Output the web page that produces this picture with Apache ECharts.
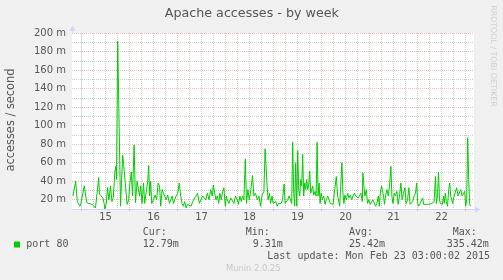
<!DOCTYPE html>
<html><head><meta charset="utf-8">
<script src="https://cdn.jsdelivr.net/npm/echarts@6/dist/echarts.min.js"></script>
<style>html,body{margin:0;padding:0;background:#f0f0f0}#c{width:503px;height:280px}</style>
</head><body><div id="c"></div>
<script>
// ---- text ----
const chartTitle = 'Apache accesses - by week';
const yAxisName = 'accesses / second';
const sideText = 'RRDTOOL / TOBI OETIKER';
const seriesName = 'port 80';
const statLabels = ['Cur:', 'Min:', 'Avg:', 'Max:'];
const statValues = ['12.79m', '9.31m', '25.42m', '335.42m'];
const lastUpdate = 'Last update: Mon Feb 23 03:00:02 2015';
const footer = 'Munin 2.0.25';

// ---- axes (hours since Feb 15 00:00) ----
const dayLabels = ['15', '16', '17', '18', '19', '20', '21', '22'];
const dayLabelHours = [12, 36, 60, 84, 108, 132, 156, 180];
const midnightHours = [0, 24, 48, 72, 96, 120, 144, 168, 192];
const gridHours = [0, 6, 12, 18, 24, 30, 36, 42, 48, 54, 60, 66, 72, 78, 84, 90, 96, 102, 108, 114, 120, 126, 132, 138, 144, 150, 156, 162, 168, 174, 180, 186, 192];
const yTickValues = [20, 40, 60, 80, 100, 120, 140, 160, 180, 200];

// ---- data: time (hours since Feb 15 00:00) and rate (milli accesses / second) ----
const hours = [
  -4.3,-2.9,-2.1,-1.3,-0.8,-0.3,0.7,1.4,2.6,3.7,4.7,5.4,6.4,7.0,7.7,8.6,9.0,10.0,10.7,11.4,11.7,12.4,13.0,13.7,14.5,
  15.2,15.9,16.7,17.2,17.5,18.1,19.5,20.6,21.1,21.8,22.8,23.6,24.2,24.9,25.5,26.3,27.0,
  27.8,29.0,29.6,30.3,31.0,31.6,32.3,33.1,33.6,34.1,34.6,35.1,36.0,36.8,37.6,38.3,39.0,39.6,40.3,41.0,
  41.6,42.3,43.1,44.0,44.6,45.3,46.0,46.6,47.3,48.1,48.9,49.6,50.3,50.9,51.6,52.3,53.0,53.9,54.8,55.6,
  56.4,57.2,58.0,58.9,59.8,60.6,
  61.3,62.1,62.9,63.8,64.6,65.4,65.9,66.6,67.2,67.9,68.6,69.2,69.9,70.6,71.2,71.9,72.4,72.9,73.7,74.6,
  75.4,76.2,77.0,77.9,78.5,79.2,79.9,80.5,81.2,81.9,82.5,83.2,83.9,84.7,85.5,86.2,87.0,87.9,88.7,89.5,
  90.3,91.2,91.8,92.3,92.8,93.3,94.0,94.5,95.3,
  95.8,96.5,97.2,97.8,98.5,99.2,99.8,100.5,101.3,101.8,102.5,103.1,103.8,104.5,105.1,105.6,106.1,106.6,107.1,107.6,
  108.1,108.6,109.1,109.6,110.1,110.6,111.1,111.6,112.1,112.6,113.1,113.6,114.1,114.6,115.1,115.6,116.1,116.8,117.3,117.8,
  118.3,118.8,119.3,119.8,120.4,121.1,121.8,122.4,123.1,123.8,124.4,125.1,125.8,126.4,126.9,127.4,128.1,
  129.1,129.6,130.2,130.7,131.2,131.7,132.4,133.1,133.7,134.4,135.1,135.7,136.4,137.1,137.7,138.4,139.1,139.7,140.4,140.7,
  141.2,141.7,142.4,143.0,143.7,144.4,145.0,145.7,146.4,147.0,147.7,148.4,148.9,149.4,150.0,150.5,151.0,151.5,152.0,152.7,
  153.4,154.0,154.7,155.2,155.7,156.4,157.0,157.7,158.3,159.0,159.7,160.3,161.0,161.7,162.3,
  163.0,163.7,164.3,165.0,165.6,166.3,167.0,167.6,168.1,168.6,169.3,170.0,170.6,171.1,171.6,172.3,173.0,173.6,174.3,175.0,
  175.6,176.3,177.0,177.4,178.0,178.5,179.0,179.4,180.0,180.5,181.0,181.4,181.9,182.4,183.0,183.6,184.1,184.6,185.1,185.6,
  186.3,186.9,187.6,188.3,188.9,189.6,190.3,190.9,191.6,192.1,192.6,193.1,193.6,194.1,194.6
];
const rate = [
  24,40,18,16,13,16,27,35,17,16,17,15,13,11,13,44,26,24,22,15,10,16,33,20,35,
  18,22,51,56,42,191,13,68,58,40,15,20,38,50,24,79,17,
  40,24,35,16,38,16,27,40,57,24,40,16,20,25,20,38,35,13,31,27,
  24,20,25,16,16,24,16,20,24,27,38,24,16,13,18,11,15,16,13,18,
  16,24,27,16,20,24,
  25,20,27,20,31,24,36,35,20,24,16,27,20,29,33,13,24,20,16,22,
  20,16,24,20,15,24,18,24,20,64,16,31,20,31,46,24,27,20,24,13,
  25,29,75,77,35,20,27,16,24,
  16,15,18,13,16,15,16,20,37,16,15,20,24,25,16,82,27,13,60,13,
  73,31,24,42,35,69,24,38,31,42,31,36,51,27,29,35,25,29,24,82,
  24,38,16,27,20,24,15,20,24,22,16,18,15,27,36,45,24,
  13,35,60,27,16,25,20,27,22,25,20,24,27,24,25,22,24,27,18,49,
  35,24,31,16,20,15,13,20,18,13,16,24,13,27,35,37,24,15,24,31,
  24,35,56,24,16,27,24,29,15,24,38,20,27,33,16,
  20,33,15,13,18,24,27,38,16,13,16,15,22,15,16,15,16,15,17,16,
  16,18,45,16,24,50,20,16,18,15,24,16,27,18,13,31,38,24,20,16,
  24,25,33,24,22,31,24,24,29,13,20,87,42,15,13
];

const TEXT = '#555';
const MAJOR = 'rgba(224,110,110,0.45)';
const MINOR = 'rgba(140,140,140,0.45)';
const AXIS = '#CFD6F8';
const FONT = '"DejaVu Sans"';
const MONO = '"DejaVu Sans Mono"';

const chart = echarts.init(document.getElementById('c'), null, {renderer: 'canvas'});

const graphics = [
  {type: 'text', x: 251.8, y: 13.3, style: {text: chartTitle, font: '12.7px ' + FONT, fill: TEXT, align: 'center', verticalAlign: 'middle'}},
  {type: 'text', x: 11, y: 120, rotation: Math.PI / 2, style: {text: yAxisName, font: '11.4px ' + FONT, fill: TEXT, align: 'center', verticalAlign: 'middle'}},
  {type: 'text', x: 493.5, y: 56, rotation: -Math.PI / 2, style: {text: sideText, font: '7.9px ' + FONT, fill: '#cfcfcf', align: 'center', verticalAlign: 'middle'}},
  {type: 'rect', shape: {x: 14, y: 241.5, width: 6, height: 6}, style: {fill: '#00cc00'}},
  {type: 'text', x: 26.3, y: 244.5, style: {text: seriesName, font: '10px ' + MONO, fill: TEXT, align: 'left', verticalAlign: 'middle'}},
  {type: 'text', x: 267.3, y: 256.7, style: {text: lastUpdate, font: '10px ' + MONO, fill: TEXT, align: 'left', verticalAlign: 'middle'}},
  {type: 'text', x: 253.3, y: 269.3, style: {text: footer, font: '8.4px ' + FONT, fill: '#c8c8c8', align: 'center', verticalAlign: 'middle'}},
  // axis arrows (decoration)
  {type: 'line', shape: {x1: 72.5, y1: 33, x2: 72.5, y2: 30}, style: {stroke: AXIS, lineWidth: 1}},
  {type: 'polygon', shape: {points: [[69.5, 31], [75.5, 31], [72.5, 25.5]]}, style: {fill: AXIS}},
  {type: 'line', shape: {x1: 474, y1: 209.5, x2: 476, y2: 209.5}, style: {stroke: AXIS, lineWidth: 1}},
  {type: 'polygon', shape: {points: [[475, 206.5], [475, 212.5], [480.5, 209.5]]}, style: {fill: AXIS}}
];
const labelX = [142.7, 245.7, 349, 452.7];
const valueX = [142.7, 252.7, 349, 446.7];
statLabels.forEach((s, i) => {
  graphics.push({type: 'text', x: labelX[i], y: 232.7, style: {text: s, font: '10px ' + MONO, fill: TEXT, align: 'left', verticalAlign: 'middle'}});
  graphics.push({type: 'text', x: valueX[i], y: 244.5, style: {text: statValues[i], font: '10px ' + MONO, fill: TEXT, align: 'left', verticalAlign: 'middle'}});
});

chart.setOption({
  backgroundColor: '#f0f0f0',
  animation: false,
  grid: {left: 72, top: 33, width: 402, height: 176, backgroundColor: '#ffffff', show: true, borderWidth: 0},
  xAxis: [{
    type: 'value', min: -4.75, max: 196.25,
    axisLine: {show: true, lineStyle: {color: AXIS, width: 1}},
    axisTick: {show: true, customValues: midnightHours, length: 2, lineStyle: {color: MAJOR}},
    axisLabel: {customValues: dayLabelHours, margin: 3, color: TEXT, fontSize: 10, fontFamily: 'DejaVu Sans',
      formatter: v => { const i = dayLabelHours.indexOf(Math.round(v)); return i >= 0 ? dayLabels[i] : ''; }},
    splitLine: {show: false}
  }, {
    type: 'value', min: -4.75, max: 196.25, position: 'bottom',
    axisLine: {show: false}, axisLabel: {show: false},
    axisTick: {show: false, customValues: gridHours},
    splitLine: {show: true, lineStyle: {color: [MAJOR, MINOR, MINOR, MINOR], type: [1, 1], width: 1}}
  }],
  yAxis: {
    type: 'value', min: 10, max: 200, interval: 10,
    axisLine: {show: true, lineStyle: {color: AXIS, width: 1}},
    axisTick: {show: false},
    axisLabel: {margin: 6, color: TEXT, fontSize: 10, fontFamily: 'DejaVu Sans',
      formatter: v => yTickValues.indexOf(Math.round(v)) >= 0 ? Math.round(v) + ' m' : ''},
    splitLine: {show: true, lineStyle: {color: [MINOR, MAJOR], type: [1, 1], width: 1}}
  },
  graphic: graphics,
  series: [
    {type: 'line', name: seriesName, z: 3, xAxisIndex: 0, data: hours.map((h, i) => [h, rate[i]]),
      symbol: 'none', showSymbol: false, sampling: null,
      lineStyle: {color: '#00cc00', width: 1}, itemStyle: {color: '#00cc00'}}
  ]
});
</script>
</body></html>
